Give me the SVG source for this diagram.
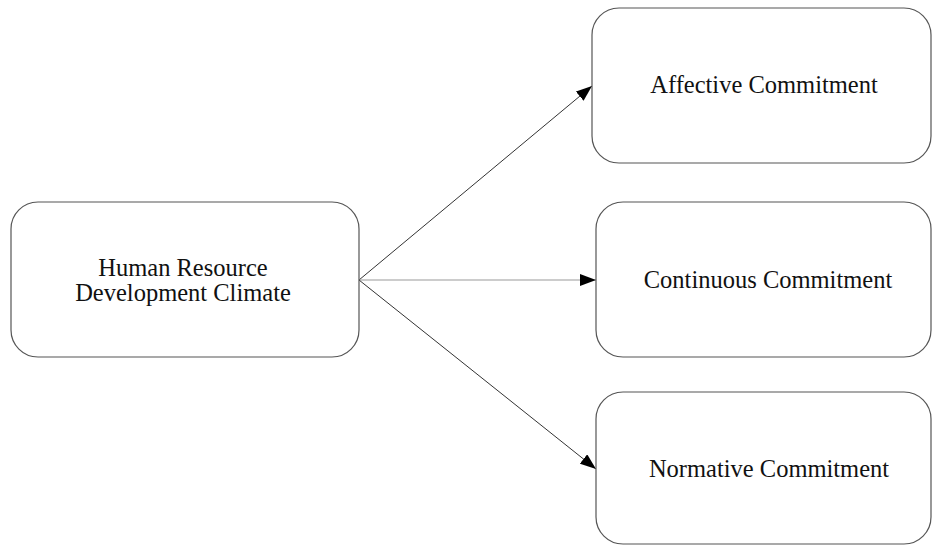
<svg xmlns="http://www.w3.org/2000/svg" width="932" height="545" viewBox="0 0 932 545">
  <style>
    .box { fill: #ffffff; stroke: #555555; stroke-width: 1.2; }
    .label { font-family: "Liberation Serif", "Times New Roman", serif; font-size: 24.5px; fill: #111111; text-anchor: middle; }
    .edge { stroke: #333333; stroke-width: 1; fill: none; marker-end: url(#arrow); }
    .edge.light { stroke: #999999; }
  </style>
  <defs>
    <marker id="arrow" viewBox="0 0 16 12" refX="16" refY="6" markerWidth="16" markerHeight="12" markerUnits="userSpaceOnUse" orient="auto">
      <path d="M0,0 L16,6 L0,12 Z" fill="#000000"/>
    </marker>
  </defs>
  <rect width="932" height="545" fill="#ffffff"/>

  <g id="connectors">
    <line class="edge" x1="359" y1="280" x2="592" y2="86"/>
    <line class="edge light" x1="359" y1="280" x2="596" y2="280"/>
    <line class="edge" x1="359" y1="280" x2="596" y2="469"/>
  </g>

  <g id="hrd-climate">
    <rect class="box" x="11" y="202" width="348" height="155" rx="27" ry="27"/>
    <text class="label" x="183" y="276">Human Resource</text>
    <text class="label" x="183" y="301">Development Climate</text>
  </g>

  <g id="affective">
    <rect class="box" x="592" y="8" width="339" height="155" rx="27" ry="27"/>
    <text class="label" x="764" y="93">Affective Commitment</text>
  </g>

  <g id="continuous">
    <rect class="box" x="596" y="202" width="335" height="155" rx="27" ry="27"/>
    <text class="label" x="768" y="288">Continuous Commitment</text>
  </g>

  <g id="normative">
    <rect class="box" x="596" y="392" width="335" height="152" rx="27" ry="27"/>
    <text class="label" x="769" y="477">Normative Commitment</text>
  </g>
</svg>
